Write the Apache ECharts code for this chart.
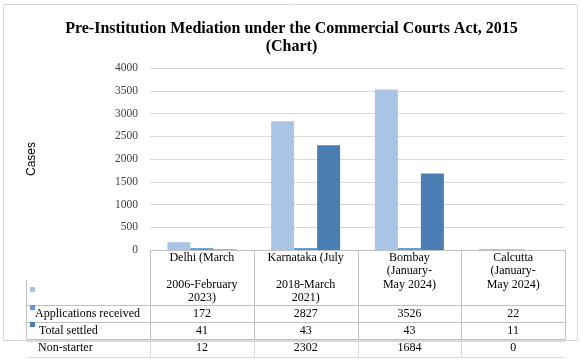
<!DOCTYPE html>
<html><head><meta charset="utf-8">
<script src="https://cdn.jsdelivr.net/npm/echarts@6/dist/echarts.min.js"></script>
<style>html,body{margin:0;padding:0;background:#fff}#c{width:583px;height:361px}</style>
</head><body><div id="c"></div>
<script>
var titleText = 'Pre-Institution Mediation under the Commercial Courts Act, 2015\n(Chart)';
var categories = ['Delhi (March\n\n2006-February\n2023)', 'Karnataka (July\n\n2018-March\n2021)', 'Bombay\n(January-\nMay 2024)', 'Calcutta\n(January-\nMay 2024)'];
var seriesNames = ['Applications received', 'Total settled', 'Non-starter'];
var applications = [172, 2827, 3526, 22];
var settled = [41, 43, 43, 11];
var nonStarter = [12, 2302, 1684, 0];
var yTicks = [0, 500, 1000, 1500, 2000, 2500, 3000, 3500, 4000];
var colors = ['#aac4e6', '#5b9bd5', '#4a7db2'];
var serif = '"Liberation Serif","Times New Roman",serif';
var values = [applications, settled, nonStarter];

var chart = echarts.init(document.getElementById('c'));
chart.setOption({
  animation: false,
  title: {text: titleText, left: 'center', top: 15,
    textStyle: {fontFamily: serif, fontSize: 16, fontWeight: 'bold', color: '#000', lineHeight: 18}},
  grid: {left: 150, right: 18, top: 68, bottom: 111},
  xAxis: {type: 'category', data: categories,
    axisLine: {show: true, lineStyle: {color: '#bfbfbf'}},
    axisTick: {show: false},
    axisLabel: {interval: 0, margin: 1, fontFamily: serif, fontSize: 12, color: '#000', lineHeight: 13.5}},
  yAxis: {type: 'value', min: yTicks[0], max: yTicks[yTicks.length - 1], interval: 500,
    name: 'Cases', nameLocation: 'middle', nameGap: 112, nameRotate: 90,
    nameTextStyle: {fontFamily: '"Liberation Sans",Arial,sans-serif', fontSize: 12, color: '#000'},
    axisLine: {show: false}, axisTick: {show: false},
    axisLabel: {margin: 12, fontFamily: serif, fontSize: 11.5, color: '#404040',
      formatter: function (v) { return String(v); }},
    splitLine: {lineStyle: {color: '#d9d9d9'}}},
  series: seriesNames.map(function (n, i) {
    return {name: n, type: 'bar', data: values[i], barGap: '0%', barCategoryGap: '33.5%',
      itemStyle: {color: colors[i]}};
  })
});

// data table below the plot
var g = [];
var lc = '#bfbfbf';
function line(x1, y1, x2, y2, c) {
  g.push({type: 'line', shape: {x1: x1, y1: y1, x2: x2, y2: y2}, style: {stroke: c || lc, lineWidth: 1}, z: 10});
}
var cx = categories.map(function (c, i) { return chart.convertToPixel({xAxisIndex: 0}, i); });
var bw = cx[1] - cx[0];
var right = Math.round(cx[cx.length - 1] + bw / 2) + 0.5;
var tableLeft = 26.5;
// outer frame
g.push({type: 'rect', shape: {x: 3.5, y: 4.5, width: 574, height: 336}, style: {fill: null, stroke: '#d9d9d9', lineWidth: 1}, z: 1});
var rowTops = [305.5, 322.5, 340.5];
var rowBottom = 357.5;
line(tableLeft, rowTops[0], right, rowTops[0]);
line(tableLeft, rowTops[1], right, rowTops[1]);
line(tableLeft, rowTops[2] - 1, right, rowTops[2] - 1);
line(tableLeft, rowTops[2] + 1, right, rowTops[2] + 1, '#d9d9d9');
line(tableLeft, rowBottom, right, rowBottom, '#d9d9d9');
line(tableLeft, 280, tableLeft, 339);
for (var k = 0; k <= categories.length; k++) {
  var x = Math.round(cx[0] - bw / 2 + k * bw) + 0.5;
  line(x, 250, x, 339);
  if (k < categories.length) line(x, 341, x, rowBottom, '#d9d9d9');
}
// legend keys
var keyY = [287, 305, 322];
colors.forEach(function (c, i) {
  g.push({type: 'rect', shape: {x: 30, y: keyY[i], width: 5, height: 5}, style: {fill: c}, z: 11});
});
var labelX = [35, 39, 38];
var rowMid = [314, 331, 348];
seriesNames.forEach(function (n, i) {
  g.push({type: 'text', x: labelX[i], y: rowMid[i], style: {text: n, fontFamily: serif, fontSize: 12, fill: '#000', verticalAlign: 'middle', align: 'left'}, z: 11});
  values[i].forEach(function (v, j) {
    g.push({type: 'text', x: cx[j], y: rowMid[i], style: {text: String(v), fontFamily: serif, fontSize: 12, fill: '#000', verticalAlign: 'middle', align: 'center'}, z: 11});
  });
});
chart.setOption({graphic: g});
</script></body></html>
